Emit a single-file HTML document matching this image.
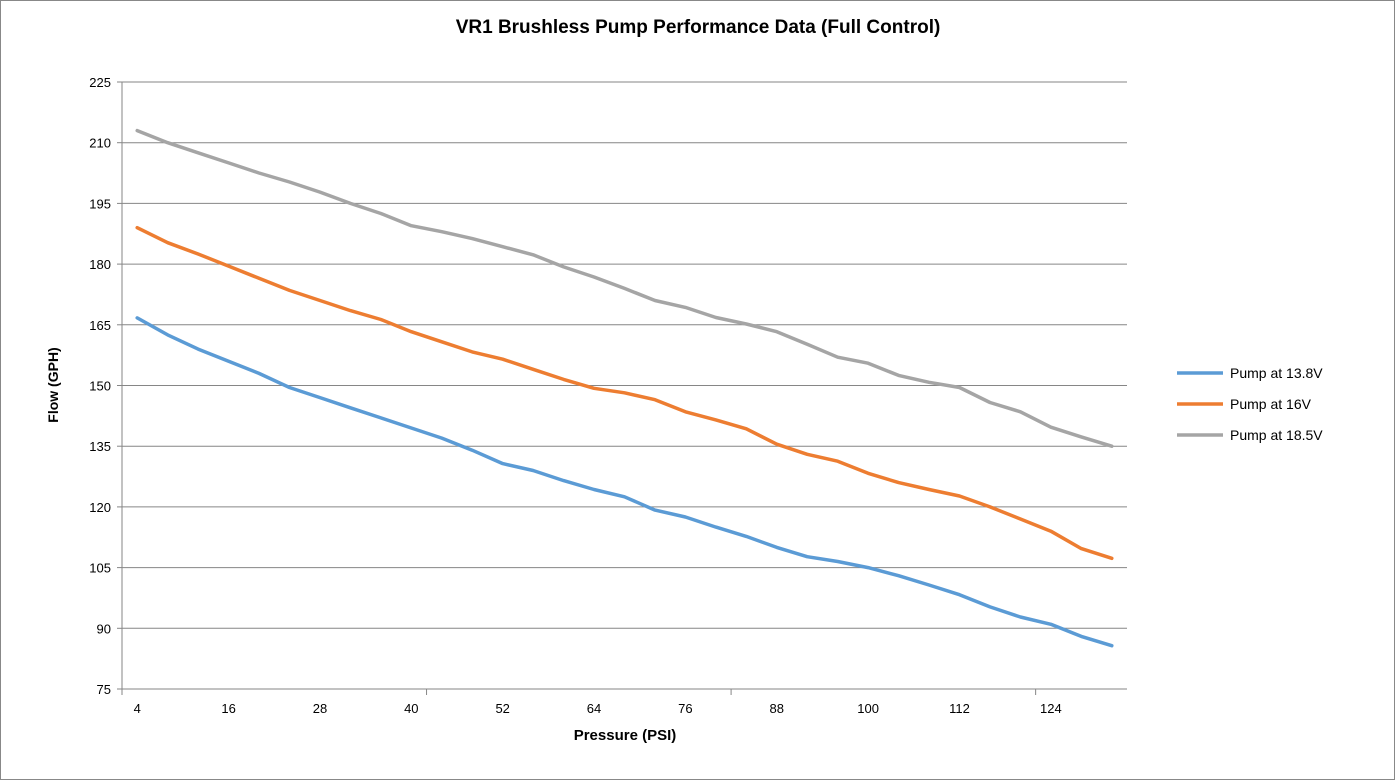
<!DOCTYPE html>
<html><head><meta charset="utf-8"><style>
html,body{margin:0;padding:0;background:#fff;}
svg{display:block;font-family:"Liberation Sans",sans-serif;}
</style></head><body>
<svg id="c" width="1395" height="780" viewBox="0 0 1395 780" xmlns="http://www.w3.org/2000/svg">
<rect x="0.5" y="0.5" width="1394" height="779" fill="#fff" stroke="#888"/>
<text x="698" y="33" text-anchor="middle" font-size="19" font-weight="bold" fill="#000">VR1 Brushless Pump Performance Data (Full Control)</text>
<g id="grid"></g>
<g id="series" fill="none" stroke-width="3.5" stroke-linejoin="round" stroke-linecap="round"></g>
<text transform="translate(58,385) rotate(-90)" text-anchor="middle" font-size="14" font-weight="bold">Flow (GPH)</text>
<text x="625" y="740" text-anchor="middle" font-size="15" font-weight="bold">Pressure (PSI)</text>
<line x1="1177" y1="373" x2="1223" y2="373" stroke="#5B9BD5" stroke-width="3.5"/>
<line x1="1177" y1="404" x2="1223" y2="404" stroke="#ED7D31" stroke-width="3.5"/>
<line x1="1177" y1="435" x2="1223" y2="435" stroke="#A5A5A5" stroke-width="3.5"/>
<text x="1230" y="378" font-size="14">Pump at 13.8V</text>
<text x="1230" y="409" font-size="14">Pump at 16V</text>
<text x="1230" y="440" font-size="14">Pump at 18.5V</text>
</svg>
<script>
var ns="http://www.w3.org/2000/svg",g=document.getElementById("grid"),s=document.getElementById("series");
function el(t,a,p){var e=document.createElementNS(ns,t);for(var k in a)e.setAttribute(k,a[k]);(p||g).appendChild(e);return e;}
var L=122,R=1127,T=82,B=689;function Y(v){return B-(v-75)*(B-T)/150;}
var cw=(R-L)/33;function X(i){return L+cw*(i+0.5);}
for(var v=75;v<=225;v+=15){var y=Y(v);if(v>75)el("line",{x1:L,y1:y,x2:R,y2:y,stroke:"#868686","stroke-width":1});
var t=el("text",{x:L-11,y:y+5,"text-anchor":"end","font-size":13});t.textContent=v;el("line",{x1:L-5,y1:y,x2:L,y2:y,stroke:"#868686"});}
el("line",{x1:L,y1:T,x2:L,y2:B,stroke:"#868686"});el("line",{x1:L,y1:B,x2:R,y2:B,stroke:"#868686"});
for(var i=0;i<=33;i+=10){var x=L+cw*i;el("line",{x1:x,y1:B,x2:x,y2:B+6,stroke:"#868686"});}
for(var i=0;i<33;i+=3){var t=el("text",{x:X(i),y:713,"text-anchor":"middle","font-size":13});t.textContent=4+4*i;}
var d=[[166.7,162.5,159,156,153,149.5,147,144.5,142,139.5,137,134,130.7,129,126.5,124.3,122.5,119.2,117.5,115,112.7,110,107.7,106.5,105,103,100.7,98.3,95.3,92.8,91,88,85.7,"#5B9BD5"],
[189,185.3,182.5,179.5,176.5,173.5,171,168.5,166.3,163.3,160.8,158.3,156.5,154,151.5,149.3,148.2,146.5,143.5,141.5,139.3,135.5,133,131.3,128.3,126,124.3,122.7,120,117,114,109.7,107.3,"#ED7D31"],
[213,210,207.5,205,202.5,200.3,197.8,195,192.5,189.5,188,186.3,184.3,182.3,179.3,176.8,174,171,169.3,166.8,165.2,163.3,160.2,157,155.5,152.5,150.8,149.5,145.8,143.5,139.7,137.3,135,"#A5A5A5"]];
d.forEach(function(a){var p="";for(var i=0;i<33;i++)p+=(i?"L":"M")+X(i).toFixed(1)+","+Y(a[i]).toFixed(1);el("path",{d:p,stroke:a[33]},s);});
</script>
</body></html>
